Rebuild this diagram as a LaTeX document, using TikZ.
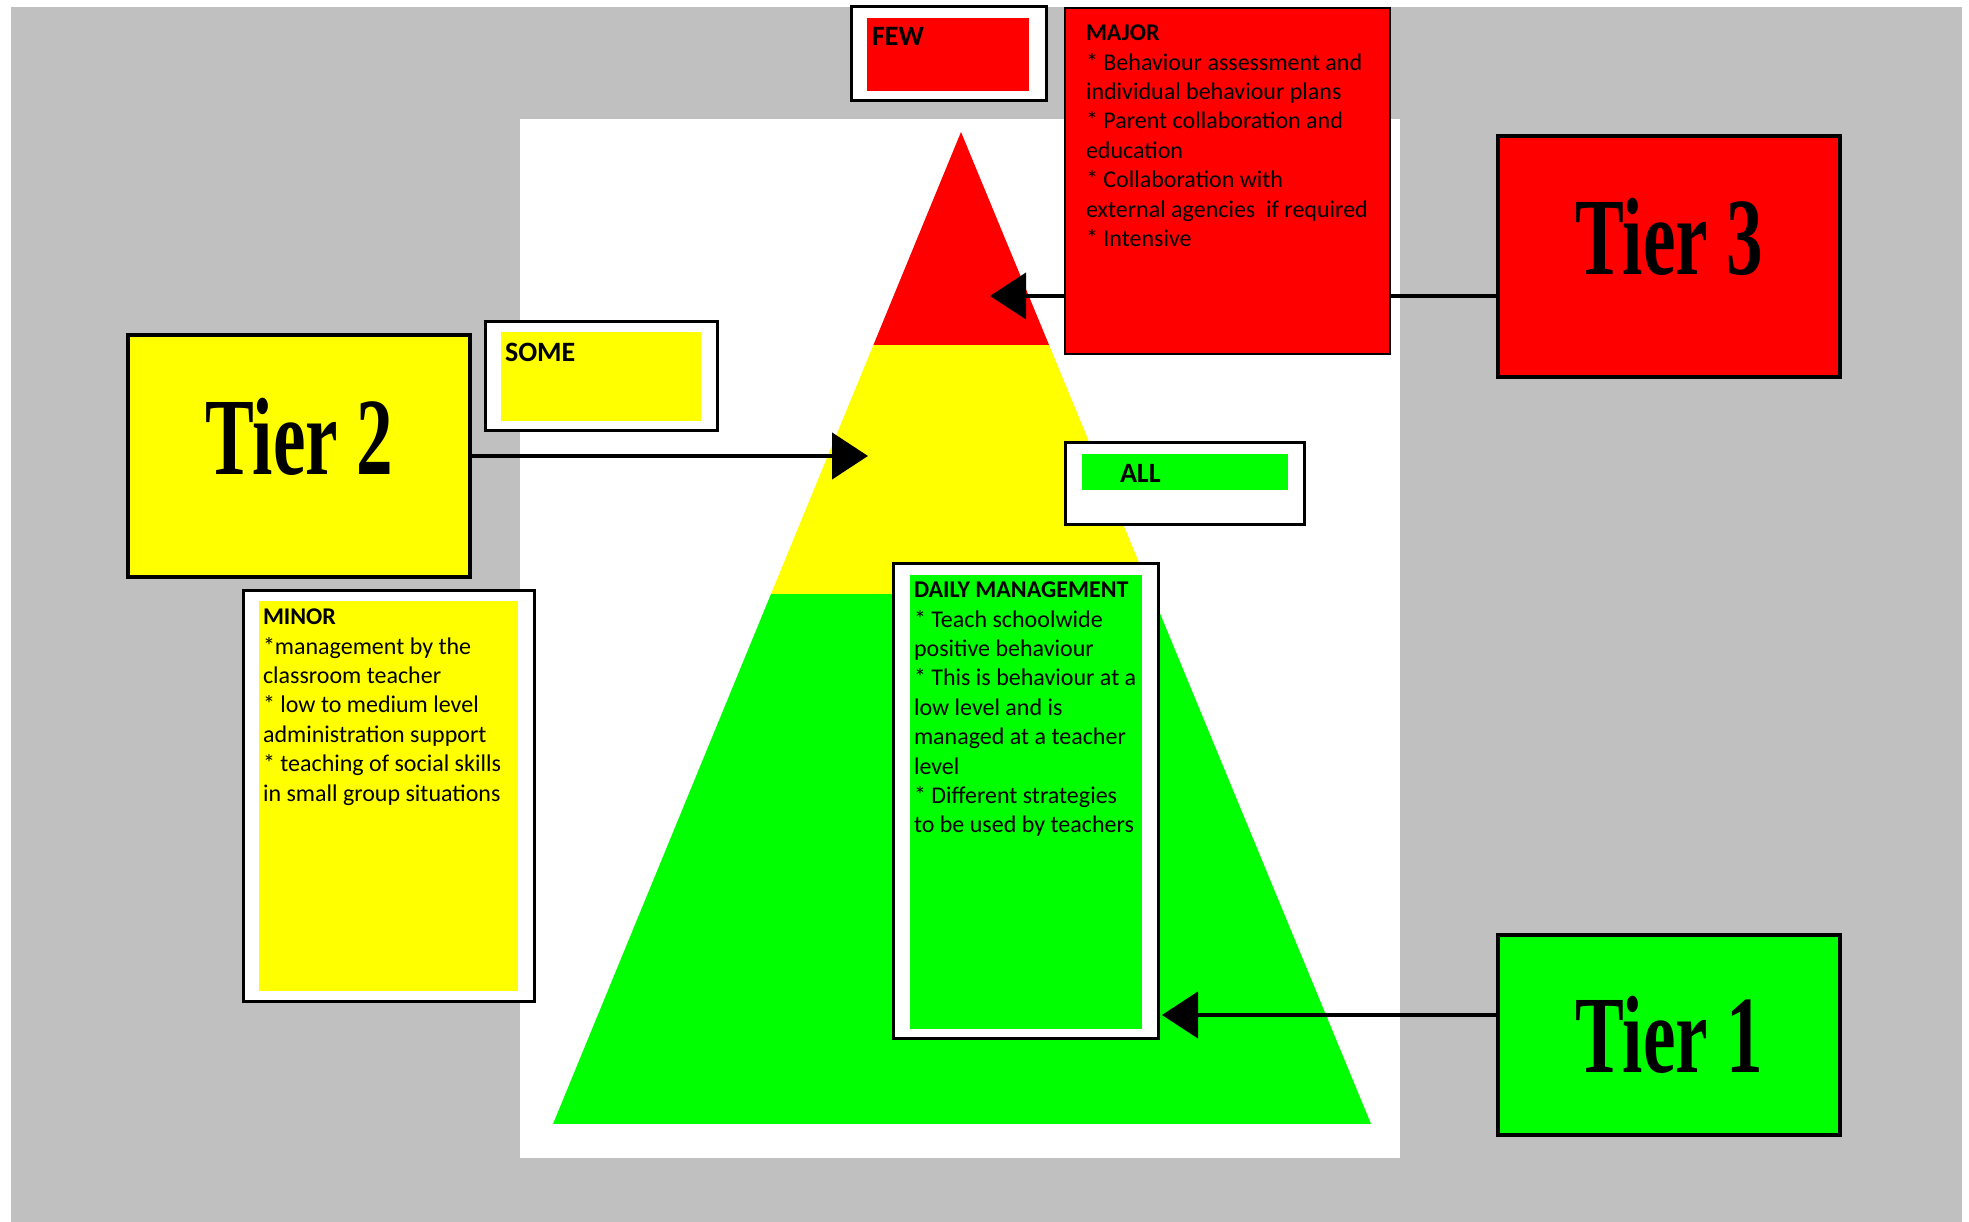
\documentclass[tikz,border=0pt]{standalone}
\usepackage{fontspec}
\setmainfont{Carlito}
\newfontfamily\tierfamily{Liberation Serif}[FakeStretch=0.665]
\usetikzlibrary{arrows.meta,positioning}
\definecolor{bggray}{HTML}{C0C0C0}
\definecolor{tierred}{HTML}{FF0000}
\definecolor{tieryellow}{HTML}{FFFF00}
\definecolor{tiergreen}{HTML}{00FF00}
\newcommand{\notesize}{\fontsize{6.83pt}{8.36pt}\selectfont}
\newcommand{\headsize}{\fontsize{7.97pt}{9.6pt}\selectfont\bfseries}
\tikzstyle{tierbox}=[draw, line width=0.4mm, inner sep=0pt, minimum width=3.42cm, font={\tierfamily\bfseries\fontsize{31.3pt}{32pt}\selectfont}]
\tikzstyle{whiteframe}=[draw, fill=white, line width=0.3mm, inner sep=0pt, outer sep=0pt, anchor=north west]
\tikzstyle{fillbox}=[inner sep=0pt, outer sep=0pt, anchor=north west]
\tikzstyle{notetext}=[inner sep=0pt, outer sep=0pt, align=left, font=\notesize]
\tikzstyle{headtext}=[inner sep=0pt, outer sep=0pt, font=\headsize]
\tikzstyle{tierArrow}=[line width=0.45mm, -{Triangle[length=3.6mm,width=4.6mm]}]

\begin{document}
\begin{tikzpicture}
    \useasboundingbox (0,0) rectangle (19.69,12.22);
    % background
    \fill[bggray] (0.11,0) rectangle (19.62,12.15);
    \fill[white] (5.20,0.64) rectangle (14.00,11.03);

    % pyramid
    \coordinate (apex) at (9.61,10.90);
    \coordinate (baseL) at (5.53,0.98);
    \coordinate (baseR) at (13.71,0.98);
    \begin{scope}
        \clip (apex) -- (baseL) -- (baseR) -- cycle;
        \fill[tiergreen] (5.4,0.9) rectangle (13.8,6.28);
        \fill[tieryellow] (5.4,6.28) rectangle (13.8,8.77);
        \fill[tierred] (5.4,8.77) rectangle (13.8,11.0);
    \end{scope}

    % tiers
    \node[tierbox, fill=tieryellow, minimum height=2.42cm, text depth=4mm] (tier2) at (2.99,7.66) {Tier 2};
    \node[tierbox, fill=tierred, minimum height=2.41cm, text depth=4mm] (tier3) at (16.69,9.655) {Tier 3};
    \node[tierbox, fill=tiergreen, minimum height=2.00cm] (tier1) at (16.69,1.87) {Tier 1};

    \coordinate (tip2) at (8.68,7.66);
    \coordinate (tip3) at (9.90,9.26);
    \coordinate (tip1) at (11.62,2.07);
    \draw[tierArrow, line width=0.4mm] (tier3.west |- tip3) -- (tip3);

    % major
    \node[fillbox, draw, line width=0.25mm, fill=tierred, minimum width=3.25cm, minimum height=3.46cm] (major) at (10.65,12.14) {};
    \node[notetext, below right=1.7mm and 2.1mm of major.north west] (majortext) {\textbf{MAJOR}\\{*} Behaviour assessment and\\individual behaviour plans\\{*} Parent collaboration and\\education\\{*} Collaboration with\\external agencies~ if required\\{*} Intensive};

    % few
    \node[whiteframe, minimum width=1.95cm, minimum height=0.94cm] (fewframe) at (8.51,12.15) {};
    \node[fillbox, fill=tierred, minimum width=1.62cm, minimum height=0.73cm] (fewfill) at (8.67,12.04) {};
    \node[headtext, below right=0.9mm and 0.5mm of fewfill.north west] (fewtext) {FEW};

    % some
    \node[whiteframe, minimum width=2.32cm, minimum height=1.09cm] (someframe) at (4.85,9.00) {};
    \node[fillbox, fill=tieryellow, minimum width=2.00cm, minimum height=0.89cm] (somefill) at (5.01,8.90) {};
    \node[headtext, below right=1.1mm and 0.4mm of somefill.north west] (sometext) {SOME};

    % all
    \node[whiteframe, minimum width=2.39cm, minimum height=0.82cm] (allframe) at (10.65,7.79) {};
    \node[fillbox, fill=tiergreen, minimum width=2.06cm, minimum height=0.36cm] (allfill) at (10.82,7.68) {};
    \node[headtext, below right=1.0mm and 3.8mm of allfill.north west] (alltext) {ALL};

    % minor
    \node[whiteframe, minimum width=2.91cm, minimum height=4.11cm] (minorframe) at (2.43,6.31) {};
    \node[fillbox, fill=tieryellow, minimum width=2.59cm, minimum height=3.90cm] (minorfill) at (2.59,6.21) {};
    \node[notetext, below right=0.8mm and 0.4mm of minorfill.north west] (minortext) {\textbf{MINOR}\\{*}management by the\\classroom teacher\\{*} low to medium level\\administration support\\{*} teaching of social skills\\in small group situations};

    % daily management
    \node[whiteframe, minimum width=2.65cm, minimum height=4.75cm] (dailyframe) at (8.93,6.58) {};
    \node[fillbox, fill=tiergreen, minimum width=2.32cm, minimum height=4.54cm] (dailyfill) at (9.10,6.47) {};
    \node[notetext, below right=0.7mm and 0.4mm of dailyfill.north west] (dailytext) {\textbf{DAILY MANAGEMENT}\\{*} Teach schoolwide\\positive behaviour\\{*} This is behaviour at a\\low level and is\\managed at a teacher\\level\\{*} Different strategies\\to be used by teachers};

    % arrows
    \draw[tierArrow] (tier2.east) -- (tip2);
    \draw[tierArrow] (tier1.west |- tip1) -- (tip1);
\end{tikzpicture}
\end{document}
